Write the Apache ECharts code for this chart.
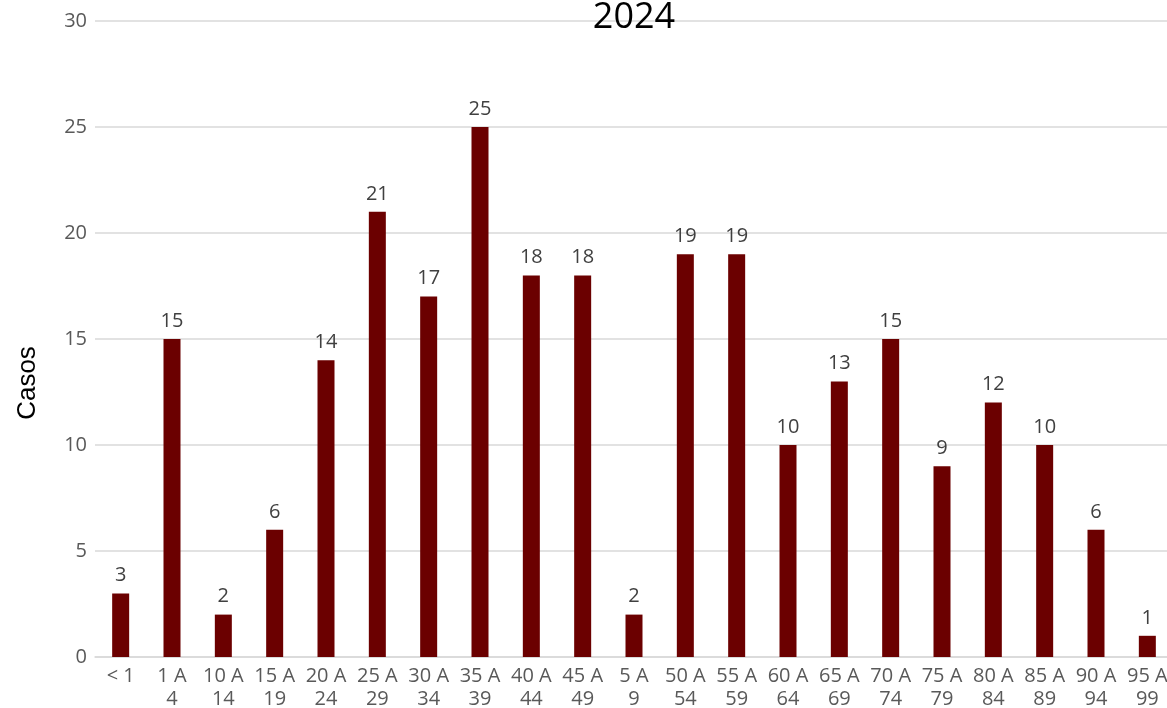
<!DOCTYPE html>
<html><head><meta charset="utf-8">
<script src="https://cdn.jsdelivr.net/npm/echarts@6/dist/echarts.min.js"></script>
<style>html,body{margin:0;padding:0;background:#fff}#c{width:1167px;height:708px}</style>
</head><body><div id="c"></div>
<script>
var categories = ["< 1","1 A 4","10 A 14","15 A 19","20 A 24","25 A 29","30 A 34","35 A 39","40 A 44","45 A 49","5 A 9","50 A 54","55 A 59","60 A 64","65 A 69","70 A 74","75 A 79","80 A 84","85 A 89","90 A 94","95 A 99"];
var casos = [3,15,2,6,14,21,17,25,18,18,2,19,19,10,13,15,9,12,10,6,1];
var titleText = "2024";
var yName = "Casos";

var chart = echarts.init(document.getElementById('c'));
chart.setOption({
  animation: false,
  title: {text: titleText, left: 629, top: -5, textAlign: 'center',
    textStyle: {fontFamily: 'Open Sans', fontSize: 36, fontWeight: 'normal', color: '#000'}},
  graphic: [{type: 'text', x: 28, y: 383, rotation: Math.PI / 2,
    style: {text: yName, fontFamily: 'Liberation Sans', fontSize: 26, fill: '#000', align: 'center', verticalAlign: 'middle'}}],
  grid: {left: 95, top: 21, right: -6, bottom: 51, containLabel: false, outerBoundsMode: 'none'},
  xAxis: {type: 'category', data: categories,
    axisLine: {lineStyle: {color: '#d9d9d9', width: 1.5}},
    axisTick: {show: false},
    axisLabel: {interval: 0, color: '#595959', fontFamily: 'Open Sans', fontSize: 20, lineHeight: 23, margin: 8,
      formatter: function(v){ return v.replace(' A ', ' A\n'); }}},
  yAxis: {type: 'value', min: 0, max: 30, interval: 5,
    axisLine: {show: false}, axisTick: {show: false},
    splitLine: {lineStyle: {color: '#d9d9d9', width: 1.5}},
    axisLabel: {color: '#595959', fontFamily: 'Open Sans', fontSize: 20, margin: 8}},
  series: [{type: 'bar', data: casos, barWidth: 17,
    itemStyle: {color: '#6b0000'},
    label: {show: true, position: 'top', distance: 8, color: '#404040', fontFamily: 'Open Sans', fontSize: 20}}]
});
</script></body></html>
